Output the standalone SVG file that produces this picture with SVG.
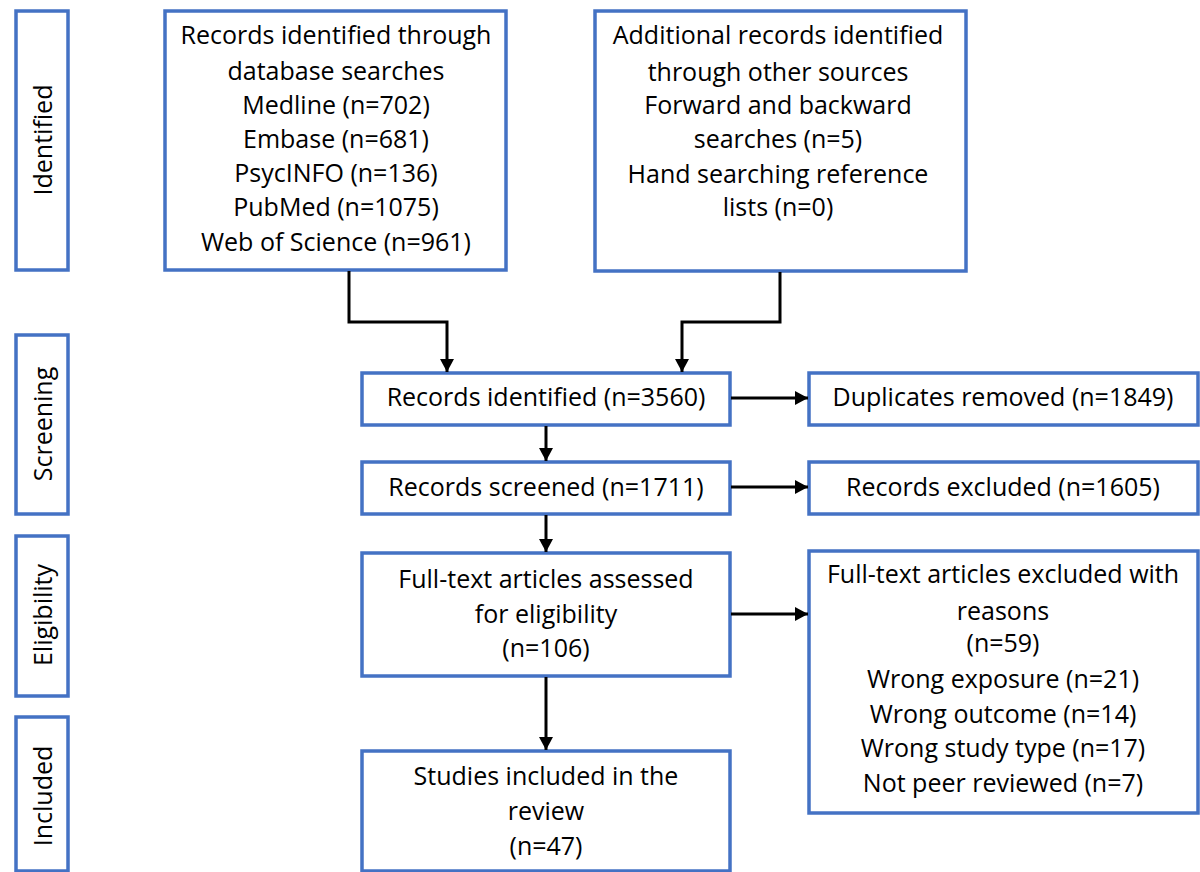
<svg xmlns="http://www.w3.org/2000/svg" width="1200" height="872" viewBox="0 0 1200 872">
<style>
.box{fill:#fff;stroke:#4472C4;stroke-width:3.5}
.t{font-family:"Open Sans","Noto Sans","Liberation Sans",sans-serif;font-size:25px;fill:#000;text-anchor:middle}
.c{fill:none;stroke:#000;stroke-width:3}
</style>
<defs>
<marker id="ah" markerUnits="userSpaceOnUse" markerWidth="14" markerHeight="14" refX="13" refY="7" orient="auto">
<path d="M0,0 L13,7 L0,14 z" fill="#000"/>
</marker>
</defs>
<rect width="1200" height="872" fill="#fff"/>
<g id="phase-identified"><rect class="box" x="16" y="11" width="52" height="259"/><text class="t" transform="translate(42,140) rotate(-90)" dominant-baseline="central">Identified</text></g>
<g id="phase-screening"><rect class="box" x="16" y="335" width="52" height="179"/><text class="t" transform="translate(42,424) rotate(-90)" dominant-baseline="central">Screening</text></g>
<g id="phase-eligibility"><rect class="box" x="16" y="536" width="52" height="160"/><text class="t" transform="translate(42,615) rotate(-90)" dominant-baseline="central">Eligibility</text></g>
<g id="phase-included"><rect class="box" x="16" y="717" width="52" height="154"/><text class="t" transform="translate(42,796) rotate(-90)" dominant-baseline="central">Included</text></g>
<g id="db-records"><rect class="box" x="165" y="11" width="341" height="259"/>
<text class="t"><tspan x="336" y="44">Records identified through</tspan><tspan x="336" y="80">database searches</tspan><tspan x="336" y="114">Medline (n=702)</tspan><tspan x="336" y="148">Embase (n=681)</tspan><tspan x="336" y="182">PsycINFO (n=136)</tspan><tspan x="336" y="216">PubMed (n=1075)</tspan><tspan x="336" y="251">Web of Science (n=961)</tspan></text></g>
<g id="other-records"><rect class="box" x="595" y="11" width="371" height="260"/>
<text class="t"><tspan x="778" y="44">Additional records identified</tspan><tspan x="778" y="81">through other sources</tspan><tspan x="778" y="114">Forward and backward</tspan><tspan x="778" y="148">searches (n=5)</tspan><tspan x="778" y="183">Hand searching reference</tspan><tspan x="778" y="216">lists (n=0)</tspan></text></g>
<g id="identified"><rect class="box" x="362" y="373" width="368" height="52"/><text class="t" x="546" y="406">Records identified (n=3560)</text></g>
<g id="duplicates"><rect class="box" x="809" y="373" width="389" height="52"/><text class="t" x="1003" y="406">Duplicates removed (n=1849)</text></g>
<g id="screened"><rect class="box" x="362" y="462" width="368" height="52"/><text class="t" x="546" y="496">Records screened (n=1711)</text></g>
<g id="excluded"><rect class="box" x="809" y="462" width="389" height="52"/><text class="t" x="1003" y="496">Records excluded (n=1605)</text></g>
<g id="fulltext"><rect class="box" x="362" y="553" width="368" height="123"/>
<text class="t"><tspan x="546" y="588">Full-text articles assessed</tspan><tspan x="546" y="623">for eligibility</tspan><tspan x="546" y="657">(n=106)</tspan></text></g>
<g id="fulltext-excluded"><rect class="box" x="809" y="551" width="389" height="262"/>
<text class="t"><tspan x="1003" y="583">Full-text articles excluded with</tspan><tspan x="1003" y="620">reasons</tspan><tspan x="1003" y="652">(n=59)</tspan><tspan x="1003" y="688">Wrong exposure (n=21)</tspan><tspan x="1003" y="723">Wrong outcome (n=14)</tspan><tspan x="1003" y="757">Wrong study type (n=17)</tspan><tspan x="1003" y="792">Not peer reviewed (n=7)</tspan></text></g>
<g id="included"><rect class="box" x="362" y="751" width="368" height="120"/>
<text class="t"><tspan x="546" y="785">Studies included in the</tspan><tspan x="546" y="820">review</tspan><tspan x="546" y="855">(n=47)</tspan></text></g>
<g id="connectors">
<path class="c" d="M349 271 V322 H447 V372" marker-end="url(#ah)"/>
<path class="c" d="M780 272 V322 H682 V372" marker-end="url(#ah)"/>
<path class="c" d="M546 426 V461" marker-end="url(#ah)"/>
<path class="c" d="M546 515 V552" marker-end="url(#ah)"/>
<path class="c" d="M546 677 V750" marker-end="url(#ah)"/>
<path class="c" d="M731 398 H808" marker-end="url(#ah)"/>
<path class="c" d="M731 487 H808" marker-end="url(#ah)"/>
<path class="c" d="M731 614 H808" marker-end="url(#ah)"/>
</g>
</svg>
